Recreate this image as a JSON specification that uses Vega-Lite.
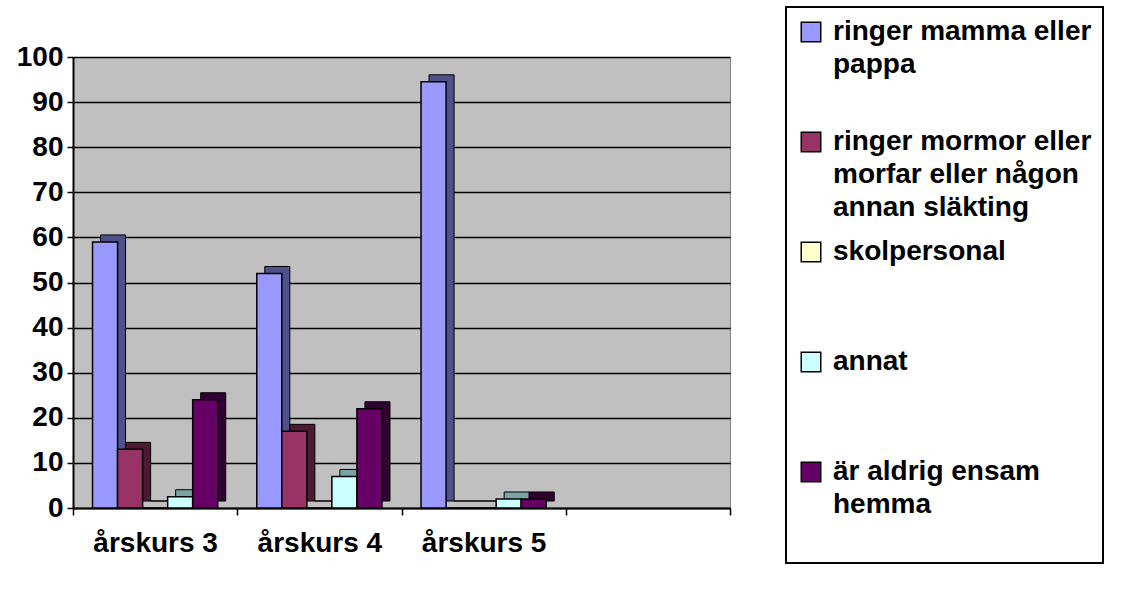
{
  "$schema": "https://vega.github.io/schema/vega-lite/v6.json",
  "width": 657,
  "height": 451,
  "autosize": {"type": "none"},
  "padding": {"left": 73, "top": 57, "right": 395, "bottom": 84},
  "background": "white",
  "config": {
    "view": {"fill": "#C0C0C0", "stroke": "#808080", "strokeWidth": 1},
    "font": "Liberation Sans"
  },
  "data": {
    "values": [
      {"kurs": "årskurs 3", "serie": "ringer mamma eller pappa", "andel": 59},
      {"kurs": "årskurs 3", "serie": "ringer mormor eller morfar eller någon annan släkting", "andel": 13},
      {"kurs": "årskurs 3", "serie": "skolpersonal", "andel": 0},
      {"kurs": "årskurs 3", "serie": "annat", "andel": 2.5},
      {"kurs": "årskurs 3", "serie": "är aldrig ensam hemma", "andel": 24},
      {"kurs": "årskurs 4", "serie": "ringer mamma eller pappa", "andel": 52},
      {"kurs": "årskurs 4", "serie": "ringer mormor eller morfar eller någon annan släkting", "andel": 17},
      {"kurs": "årskurs 4", "serie": "skolpersonal", "andel": 0},
      {"kurs": "årskurs 4", "serie": "annat", "andel": 7},
      {"kurs": "årskurs 4", "serie": "är aldrig ensam hemma", "andel": 22},
      {"kurs": "årskurs 5", "serie": "ringer mamma eller pappa", "andel": 94.5},
      {"kurs": "årskurs 5", "serie": "ringer mormor eller morfar eller någon annan släkting", "andel": 0},
      {"kurs": "årskurs 5", "serie": "skolpersonal", "andel": 0},
      {"kurs": "årskurs 5", "serie": "annat", "andel": 2},
      {"kurs": "årskurs 5", "serie": "är aldrig ensam hemma", "andel": 2}
    ]
  },
  "encoding": {
    "x": {
      "field": "kurs",
      "type": "nominal",
      "sort": null,
      "scale": {"domain": ["årskurs 3", "årskurs 4", "årskurs 5", " "], "paddingInner": 0, "paddingOuter": 0},
      "axis": {
        "title": null,
        "labelAngle": 0,
        "labelFont": "Liberation Sans",
        "labelFontWeight": "bold",
        "labelFontSize": 28,
        "labelColor": "black",
        "labelPadding": 14,
        "labelLimit": 300,
        "tickBand": "extent",
        "tickColor": "black",
        "tickSize": 7,
        "tickWidth": 1.5,
        "domainColor": "black",
        "domainWidth": 2,
        "grid": false
      }
    },
    "y": {
      "field": "andel",
      "type": "quantitative",
      "scale": {"domain": [0, 100]},
      "axis": {
        "title": null,
        "values": [0, 10, 20, 30, 40, 50, 60, 70, 80, 90, 100],
        "labelFont": "Liberation Sans",
        "labelFontSize": 28,
        "labelFontWeight": "bold",
        "labelColor": "black",
        "labelPadding": 4,
        "tickSize": 6,
        "tickColor": "black",
        "tickWidth": 1.5,
        "domainColor": "black",
        "domainWidth": 2,
        "grid": true,
        "gridColor": "black",
        "gridWidth": 1.5
      }
    }
  },
  "layer": [
    {
      "mark": {"type": "bar", "yOffset": -7, "stroke": "black", "strokeWidth": 1},
      "encoding": {
        "xOffset": {
          "field": "serie",
          "type": "nominal",
          "sort": null,
          "scale": {
            "domain": ["ringer mamma eller pappa", "ringer mormor eller morfar eller någon annan släkting", "skolpersonal", "annat", "är aldrig ensam hemma"],
            "paddingInner": 0,
            "paddingOuter": 0.78,
            "align": 0.705
          }
        },
        "color": {
          "field": "serie",
          "type": "nominal",
          "scale": {
            "domain": ["ringer mamma eller pappa", "ringer mormor eller morfar eller någon annan släkting", "skolpersonal", "annat", "är aldrig ensam hemma"],
            "range": ["#50508A", "#4D1A33", "#9A9A7A", "#7AA3A3", "#330033"]
          },
          "legend": null
        }
      }
    },
    {
      "mark": {"type": "bar", "stroke": "black", "strokeWidth": 1.5},
      "encoding": {
        "xOffset": {
          "field": "serie",
          "type": "nominal",
          "sort": null,
          "scale": {
            "domain": ["ringer mamma eller pappa", "ringer mormor eller morfar eller någon annan släkting", "skolpersonal", "annat", "är aldrig ensam hemma"],
            "paddingInner": 0,
            "paddingOuter": 0.78,
            "align": 0.5
          }
        },
        "color": {
          "field": "serie",
          "type": "nominal",
          "scale": {
            "domain": ["ringer mamma eller pappa", "ringer mormor eller morfar eller någon annan släkting", "skolpersonal", "annat", "är aldrig ensam hemma"],
            "range": ["#9999FF", "#993366", "#FFFFCC", "#CCFFFF", "#660066"]
          },
          "legend": {
            "title": null,
            "orient": "none",
            "legendX": 713,
            "legendY": -50,
            "padding": 11,
            "strokeColor": "black",
            "fillColor": "white",
            "symbolType": "square",
            "symbolSize": 380,
            "symbolStrokeColor": "black",
            "symbolStrokeWidth": 1.5,
            "symbolOpacity": 1,
            "labelFont": "Liberation Sans",
            "labelFontSize": 28,
            "labelFontWeight": "bold",
            "labelColor": "black",
            "labelLimit": 400,
            "labelOffset": 8,
            "rowPadding": 16,
            "labelExpr": "datum.label == 'ringer mamma eller pappa' ? ['ringer mamma eller', 'pappa', ''] : datum.label == 'ringer mormor eller morfar eller någon annan släkting' ? ['ringer mormor eller', 'morfar eller någon', 'annan släkting'] : datum.label == 'är aldrig ensam hemma' ? ['är aldrig ensam', 'hemma', ''] : [datum.label, '', '']",
            "encode": {
              "labels": {"update": {"lineHeight": {"value": 33}}},
              "legend": {"update": {"stroke": {"value": "black"}, "strokeWidth": {"value": 2}}}
            }
          }
        }
      }
    }
  ],
  "resolve": {"scale": {"color": "independent", "xOffset": "independent"}}
}
